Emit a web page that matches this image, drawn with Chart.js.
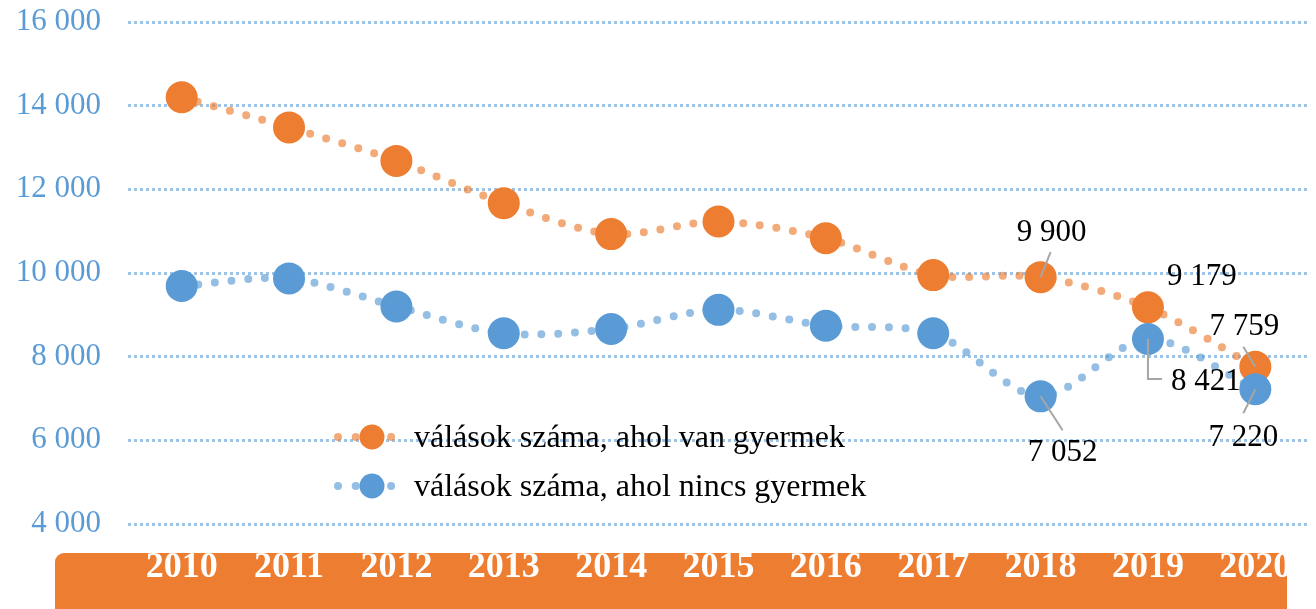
<!DOCTYPE html>
<html lang="hu">
<head>
<meta charset="utf-8">
<script src="https://cdn.jsdelivr.net/npm/chart.js@4/dist/chart.umd.min.js"></script>
<style>
    html, body { margin: 0; padding: 0; background: #ffffff; }
    #wrap { width: 1316px; height: 609px; position: relative; }
</style>
</head>
<body>
<div id="wrap"><canvas id="divorceChart"></canvas></div>
<script>
const years = ['2010', '2011', '2012', '2013', '2014', '2015', '2016', '2017', '2018', '2019', '2020'];
const withChildren = [14200, 13480, 12680, 11670, 10930, 11230, 10830, 9950, 9900, 9179, 7759];
const withoutChildren = [9690, 9870, 9200, 8560, 8660, 9120, 8740, 8560, 7052, 8421, 7220];
const seriesNames = ['válások száma, ahol van gyermek', 'válások száma, ahol nincs gyermek'];
const yRange = [4000, 16000];
const yStep = 2000;
const labelledPoints = [8, 9, 10];

const ORANGE = '#ed7d31';
const BLUE = '#5b9bd5';
const SERIF = "'Liberation Serif', 'Times New Roman', serif";

function fmt(n) {
    return String(n).replace(/\B(?=(\d{3})+(?!\d))/g, ' ');
}

// label offsets relative to the point, plus leader line path (style only)
const labelPlacement = {
    0: {
        8: { dx: 11, dy: -44, leader: [[0, 0], [10, -25]] },
        9: { dx: 54, dy: -30, leader: null },
        10: { dx: -11, dy: -40, leader: [[0, 0], [-12, -20]] }
    },
    1: {
        8: { dx: 22, dy: 57, leader: [[0, 0], [22, 34]] },
        9: { dx: 58, dy: 43, leader: [[0, 0], [0, 40], [14, 40]] },
        10: { dx: -12, dy: 49, leader: [[0, 0], [-12, 24]] }
    }
};

const axisBand = {
    id: 'axisBand',
    beforeDraw(chart) {
        const ctx = chart.ctx;
        ctx.save();
        ctx.fillStyle = ORANGE;
        ctx.beginPath();
        ctx.roundRect(55, 553, 1287 - 55, 70, 9);
        ctx.fill();
        ctx.restore();
    },
    afterDraw(chart) {
        // band clips the last year label
        const ctx = chart.ctx;
        ctx.save();
        ctx.fillStyle = '#ffffff';
        ctx.fillRect(1287, 540, chart.width - 1287, 80);
        ctx.restore();
    }
};

const pointLabels = {
    id: 'pointLabels',
    afterDatasetsDraw(chart) {
        const ctx = chart.ctx;
        ctx.save();
        chart.data.datasets.forEach((ds, di) => {
            const meta = chart.getDatasetMeta(di);
            const place = labelPlacement[ds.seriesIndex];
            labelledPoints.forEach(i => {
                const pt = meta.data[i];
                const p = place[i];
                if (p.leader) {
                    ctx.strokeStyle = '#a6a6a6';
                    ctx.lineWidth = 2;
                    ctx.setLineDash([]);
                    ctx.beginPath();
                    p.leader.forEach((q, k) => {
                        if (k === 0) ctx.moveTo(pt.x + q[0], pt.y + q[1]);
                        else ctx.lineTo(pt.x + q[0], pt.y + q[1]);
                    });
                    ctx.stroke();
                }
                ctx.fillStyle = '#000000';
                ctx.font = '31px ' + SERIF;
                ctx.textAlign = 'center';
                ctx.textBaseline = 'middle';
                ctx.fillText(fmt(ds.data[i]), pt.x + p.dx, pt.y + p.dy);
            });
        });
        ctx.restore();
    }
};

const customLegend = {
    id: 'customLegend',
    afterDraw(chart) {
        const ctx = chart.ctx;
        const rows = [
            { name: seriesNames[0], color: ORANGE, line: 'rgba(237,125,49,0.65)', y: 437 },
            { name: seriesNames[1], color: BLUE, line: 'rgba(91,155,213,0.65)', y: 486 }
        ];
        ctx.save();
        rows.forEach(r => {
            ctx.strokeStyle = r.line;
            ctx.lineWidth = 8;
            ctx.lineCap = 'round';
            ctx.setLineDash([0, 17.7]);
            ctx.beginPath();
            ctx.moveTo(338, r.y);
            ctx.lineTo(392, r.y);
            ctx.stroke();
            ctx.setLineDash([]);
            ctx.fillStyle = r.color;
            ctx.beginPath();
            ctx.arc(372, r.y, 12.5, 0, Math.PI * 2);
            ctx.fill();
            ctx.fillStyle = '#000000';
            ctx.font = '32px ' + SERIF;
            ctx.textAlign = 'left';
            ctx.textBaseline = 'alphabetic';
            ctx.fillText(r.name, 414, r.y + 10);
        });
        ctx.restore();
    }
};

const ctx = document.getElementById('divorceChart').getContext('2d');
new Chart(ctx, {
    type: 'line',
    data: {
        labels: years,
        datasets: [
            {
                label: seriesNames[1],
                seriesIndex: 1,
                data: withoutChildren,
                order: 0,
                borderColor: 'rgba(91,155,213,0.65)',
                borderWidth: 8,
                borderDash: [0, 16.7],
                borderCapStyle: 'round',
                tension: 0.3,
                pointRadius: 16,
                pointHoverRadius: 16,
                pointBorderWidth: 0,
                pointBackgroundColor: BLUE
            },
            {
                label: seriesNames[0],
                seriesIndex: 0,
                data: withChildren,
                order: 1,
                borderColor: 'rgba(237,125,49,0.65)',
                borderWidth: 8,
                borderDash: [0, 16.7],
                borderCapStyle: 'round',
                tension: 0.3,
                pointRadius: 16,
                pointHoverRadius: 16,
                pointBorderWidth: 0,
                pointBackgroundColor: ORANGE
            }
        ]
    },
    options: {
        responsive: true,
        maintainAspectRatio: false,
        animation: false,
        layout: {
            autoPadding: false,
            padding: { top: 0, right: 7, left: 0, bottom: 0 }
        },
        plugins: {
            legend: { display: false },
            tooltip: { enabled: false }
        },
        scales: {
            x: {
                offset: true,
                grid: { display: false, drawTicks: false },
                border: { display: false },
                ticks: {
                    color: '#ffffff',
                    padding: 22,
                    maxRotation: 0,
                    font: { family: SERIF, size: 36, weight: 'bold' }
                },
                afterFit(scale) {
                    scale.height = 85;
                    scale.paddingLeft = 0;
                    scale.paddingRight = 0;
                }
            },
            y: {
                min: yRange[0],
                max: yRange[1],
                grid: { color: '#9dc3e6', lineWidth: 3, drawTicks: false },
                border: { display: false, dash: [3, 3] },
                ticks: {
                    stepSize: yStep,
                    color: BLUE,
                    padding: 27,
                    font: { family: SERIF, size: 31 },
                    callback: v => fmt(v)
                },
                afterFit(scale) {
                    scale.width = 128;
                    scale.paddingTop = 22;
                    scale.paddingBottom = 0;
                }
            }
        }
    },
    plugins: [axisBand, pointLabels, customLegend]
});
</script>
</body>
</html>
